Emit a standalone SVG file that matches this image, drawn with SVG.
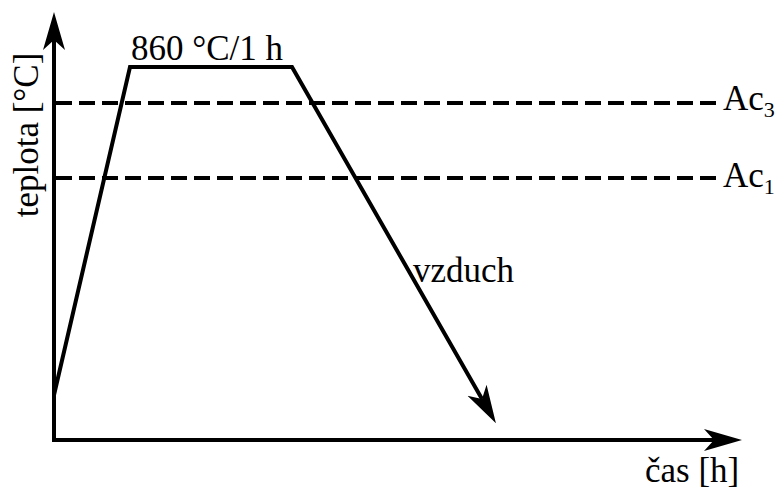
<svg xmlns="http://www.w3.org/2000/svg" width="777" height="489" viewBox="0 0 777 489">
<style>
.t{font-family:"Liberation Serif","Times New Roman",serif;font-size:35px;fill:#000}
.ln{fill:none;stroke:#000;stroke-width:4}
.dash{fill:none;stroke:#000;stroke-width:4;stroke-dasharray:16 7}
</style>
<defs>
<marker id="ah" viewBox="0 -12 40 24" refX="10" refY="0" markerWidth="40" markerHeight="24" markerUnits="userSpaceOnUse" orient="auto">
<path d="M38,0 L0,-11 L10,0 L0,11 Z" fill="#000"/>
</marker>
</defs>
<rect width="777" height="489" fill="#fff"/>
<g id="connectors">
<line id="ac3-line" class="dash" x1="56" y1="103" x2="718" y2="103"/>
<line id="ac1-line" class="dash" x1="56" y1="178" x2="718" y2="178"/>
<path id="y-axis" class="ln" d="M54,442 L54,40" marker-end="url(#ah)"/>
<path id="x-axis" class="ln" d="M52,440 L714,440" marker-end="url(#ah)"/>
<path id="cycle" class="ln" d="M54,395 L130,67 L292,67 L482,399" marker-end="url(#ah)"/>
</g>
<g id="label-hold"><text class="t" x="131" y="60">860 °C/1 h</text></g>
<g id="label-ac3"><text class="t" x="723" y="110">Ac<tspan font-size="22" dy="7">3</tspan></text></g>
<g id="label-ac1"><text class="t" x="723" y="187">Ac<tspan font-size="22" dy="7">1</tspan></text></g>
<g id="label-vzduch"><text class="t" x="413" y="282">vzduch</text></g>
<g id="label-time"><text class="t" x="645" y="482">čas [h]</text></g>
<g id="label-temp"><text class="t" x="38" y="135" text-anchor="middle" transform="rotate(-90 38 135)">teplota [°C]</text></g>
</svg>
